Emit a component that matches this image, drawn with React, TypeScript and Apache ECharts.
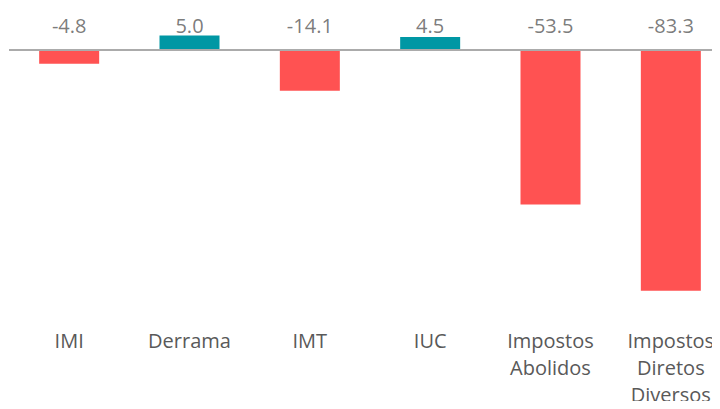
import React, { useEffect, useRef } from "react";
import * as echarts from "echarts";

const categories = ["IMI", "Derrama", "IMT", "IUC", "Impostos\nAbolidos", "Impostos\nDiretos\nDiversos"];
const values = [-4.8, 5.0, -14.1, 4.5, -53.5, -83.3];

const POS_COLOR = "#0097A4";
const NEG_COLOR = "#FF5252";
const TEXT_COLOR = "#595959";
const LABEL_ROW = 8.5; // value-axis level where the value labels sit

export default function App() {
  const ref = useRef<HTMLDivElement>(null);
  useEffect(() => {
    if (!ref.current) return;
    const chart = echarts.init(ref.current, undefined, { renderer: "svg" });
    chart.setOption({
      animation: false,
      backgroundColor: "#ffffff",
      textStyle: { fontFamily: "Open Sans" },
      grid: {
        left: 9,
        right: 0,
        top: 21.1,
        height: 289,
        containLabel: false,
        outerBoundsMode: "none",
      },
      xAxis: {
        type: "category",
        data: categories,
        axisLine: { show: false, onZero: false },
        axisTick: { show: false },
        axisLabel: {
          color: TEXT_COLOR,
          fontSize: 20,
          lineHeight: 27,
          margin: 17,
          interval: 0,
          fontFamily: "Open Sans",
        },
      },
      yAxis: {
        type: "value",
        min: -90,
        max: 10,
        show: false,
        splitLine: { show: false },
      },
      series: [
        {
          type: "bar",
          barWidth: 60,
          data: values.map((v) => ({
            value: v,
            itemStyle: { color: v >= 0 ? POS_COLOR : NEG_COLOR },
          })),
          markLine: {
            silent: true,
            symbol: "none",
            label: { show: false },
            lineStyle: { color: "#ABABAB", width: 2, type: "solid" },
            data: [{ yAxis: 0 }],
          },
        },
        {
          type: "scatter",
          symbolSize: 1,
          itemStyle: { color: "rgba(0,0,0,0)" },
          data: values.map((_, i) => [i, LABEL_ROW]),
          label: {
            show: true,
            position: "inside",
            color: TEXT_COLOR,
            fontSize: 20,
            fontFamily: "Open Sans",
            formatter: (p: any) => values[p.dataIndex].toFixed(1),
          },
        },
      ],
    });
    return () => chart.dispose();
  }, []);
  return (
    <div style={{ width: 720, height: 409, margin: -8, overflow: "hidden", position: "relative" }}>
      <div ref={ref} style={{ width: 731, height: 409 }} />
    </div>
  );
}
